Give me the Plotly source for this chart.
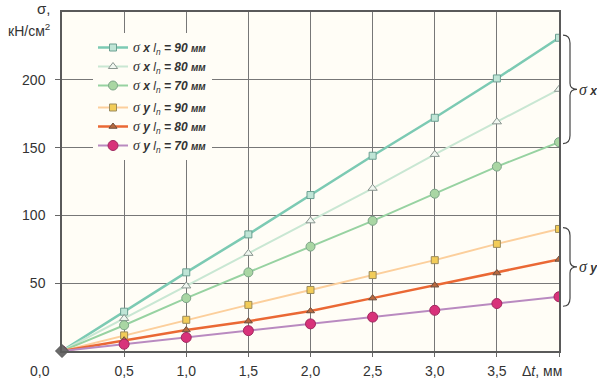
import plotly.graph_objects as go

# ---- data ----
dt = [0.0, 0.5, 1.0, 1.5, 2.0, 2.5, 3.0, 3.5, 4.0]
sx_90 = [0, 29, 58, 86, 115, 144, 172, 201, 231]
sx_80 = [0, 24, 48, 72, 96, 120, 145, 169, 193]
sx_70 = [0, 19, 39, 58, 77, 96, 116, 136, 154]
sy_90 = [0, 11.5, 23, 34, 45, 56, 67, 79, 90]
sy_80 = [0, 8, 15.5, 22, 29.5, 39, 48.5, 57.5, 67.5]
sy_70 = [0, 5, 10, 15, 20, 25, 30, 35, 40]
x_tick_vals = [0.5, 1.0, 1.5, 2.0, 2.5, 3.0, 3.5, 4.0]
x_tick_text = ["0,5", "1,0", "1,5", "2,0", "2,5", "3,0", "3,5", ""]
y_tick_vals = [50, 100, 150, 200]
y_tick_text = ["50", "100", "150", "200"]

W, H = 597, 378
ML, MR, MT, MB = 62, 38, 12, 27
PW, PH = W - ML - MR, H - MT - MB
YMAX = 250

def lab(axis, ln):
    return ("<span style='font-family:Liberation Serif;font-size:14px'><i>σ</i></span>"
            f"<b><i> {axis} </i></b><i>l<sub>n</sub></i><b><i> = {ln} </i></b>"
            "<b><i><span style='font-size:10px'>мм</span></i></b>")

series = [
    (sx_90, lab("x", 90), "#7ccab3", 2.5, "square", 7, "#bfe5d6", "#6b9f91", "x"),
    (sx_80, lab("x", 80), "#c9e7d3", 2.0, "triangle-up", 8, "#f0f7f0", "#8a9690", "x"),
    (sx_70, lab("x", 70), "#97d2a1", 2.0, "circle", 9, "#a9d6a3", "#7ca487", "x"),
    (sy_90, lab("y", 90), "#fccf9c", 2.0, "square", 7, "#f2cc58", "#9b8b5c", "y"),
    (sy_80, lab("y", 80), "#ea6834", 2.5, "triangle-up", 7, "#b8693e", "#6e5140", "y"),
    (sy_70, lab("y", 70), "#b98ac0", 2.0, "circle", 10, "#d8327a", "#a0285f", "y"),
]

fig = go.Figure()
for ys, name, lc, lw, sym, ms, fc, oc, grp in series:
    fig.add_trace(go.Scatter(
        x=dt, y=ys, name=name, mode="lines+markers", legendgroup=grp,
        line=dict(color=lc, width=lw),
        marker=dict(symbol=sym, size=ms, color=fc, line=dict(color=oc, width=1)),
    ))

# origin marker
fig.add_trace(go.Scatter(x=[dt[0]], y=[sx_90[0]], mode="markers", showlegend=False,
                         cliponaxis=False,
                         marker=dict(symbol="diamond", size=10, color="#6a6a6a",
                                     line=dict(color="#555", width=1))))

def brace(v_top, v_bot):
    def px(x):
        return (x - ML) / PW
    def py(v):
        return v / YMAX
    d = 1.0 / PH
    yt, yb = py(v_top), py(v_bot)
    ym = (yt + yb) / 2
    xt, xs, xp = px(563), px(570), px(577)
    return (f"M{xt},{yt} Q{xs},{yt} {xs},{yt - 8*d} L{xs},{ym + 6*d} "
            f"Q{xs},{ym} {xp},{ym} Q{xs},{ym} {xs},{ym - 6*d} "
            f"L{xs},{yb + 8*d} Q{xs},{yb} {xt},{yb}")

ends_x = [s[-1] for s in (sx_90, sx_80, sx_70)]
ends_y = [s[-1] for s in (sy_90, sy_80, sy_70)]
brace_x = (max(ends_x) + 2, min(ends_x) - 1)
brace_y = (max(ends_y) + 1, min(ends_y) - 7)

shapes = []
anns = []
for (top, bot), txt in ((brace_x, "x"), (brace_y, "y")):
    shapes.append(dict(type="path", xref="paper", yref="paper", path=brace(top, bot),
                       line=dict(color="#444", width=1.2)))
    anns.append(dict(xref="paper", yref="paper", x=(578 - ML) / PW, y=(top + bot) / 2 / YMAX,
                     xanchor="left", yanchor="middle", showarrow=False, borderpad=0,
                     text=("<span style='font-family:Liberation Serif;font-size:16px'><i>σ</i></span>"
                           f"<b><i> {txt}</i></b>"),
                     font=dict(size=12, color="#333")))

# axis titles and corner labels
anns += [
    dict(xref="paper", yref="paper", x=(51 - ML) / PW, y=(H - MB - 8) / PH, xanchor="right",
         yanchor="middle", showarrow=False, borderpad=0, text="σ,", font=dict(size=15, color="#333")),
    dict(xref="paper", yref="paper", x=(51 - ML) / PW, y=(H - MB - 30) / PH, xanchor="right",
         yanchor="middle", showarrow=False, borderpad=0, text="кН/см<sup>2</sup>",
         font=dict(size=14, color="#333")),
    dict(xref="paper", yref="paper", x=(40 - ML) / PW, y=-(371 - (H - MB)) / PH, xanchor="center",
         yanchor="middle", showarrow=False, text="0,0", font=dict(size=14, color="#333")),
    dict(xref="paper", yref="paper", x=(564 - ML) / PW, y=-(371 - (H - MB)) / PH, xanchor="right",
         yanchor="middle", showarrow=False, text="Δ<i>t</i>, мм", font=dict(size=14, color="#333")),
]

fig.update_layout(
    template="none",
    width=W, height=H, margin=dict(l=ML, r=MR, t=MT, b=MB, pad=0),
    paper_bgcolor="white", plot_bgcolor="#fffdf6",
    font=dict(family="Liberation Sans, Arial, sans-serif", size=14, color="#333"),
    showlegend=True,
    legend=dict(x=(93 - ML) / PW, y=(H - MB - 33) / PH, xanchor="left", yanchor="top",
                bgcolor="#fffdf6", borderwidth=0, traceorder="grouped", tracegroupgap=3,
                font=dict(size=12, color="#333")),
    shapes=shapes, annotations=anns,
    xaxis=dict(range=[0, 4], tickvals=x_tick_vals, ticktext=x_tick_text, automargin=False,
               showgrid=True, gridcolor="#777", gridwidth=1, zeroline=False,
               showline=True, linecolor="#5a5a5a", linewidth=1.5, mirror=True,
               ticks="outside", ticklen=4, tickcolor="#666", ticklabelstandoff=2),
    yaxis=dict(range=[0, YMAX], tickvals=y_tick_vals, ticktext=y_tick_text, automargin=False,
               showgrid=True, gridcolor="#777", gridwidth=1, zeroline=False,
               showline=True, linecolor="#5a5a5a", linewidth=1.5, mirror=True,
               ticks="outside", ticklen=5, tickcolor="#666", ticklabelstandoff=7),
)

fig.write_html("out.html", config={"displayModeBar": False},
               post_script="document.body.style.margin='0';document.body.style.overflow='hidden';")
